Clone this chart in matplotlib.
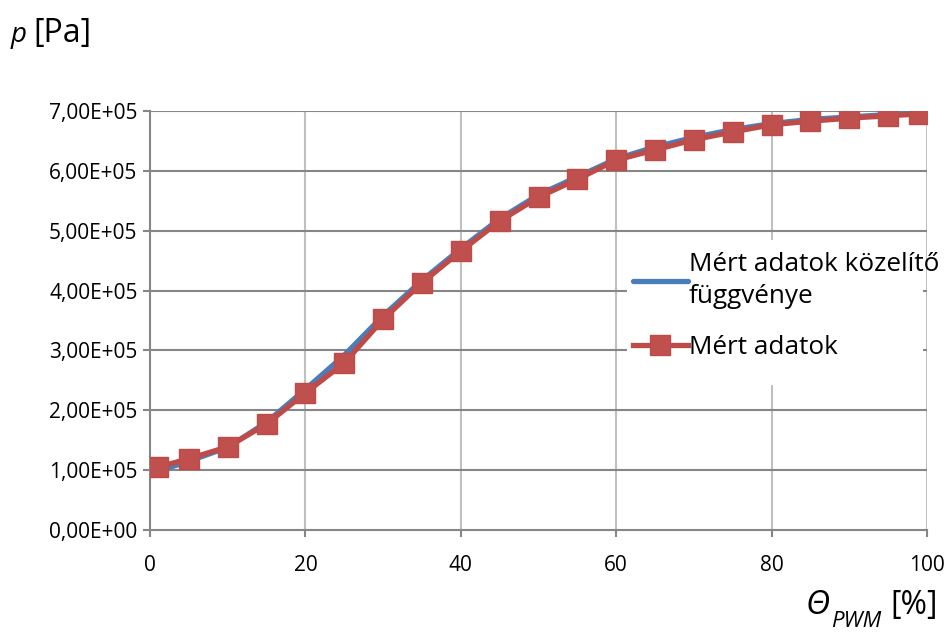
import numpy as np
import matplotlib.pyplot as plt
from matplotlib.patches import Rectangle
from matplotlib.ticker import FuncFormatter

# Measured data (Mért adatok)
x_meas = [1, 5, 10, 15, 20, 25, 30, 35, 40, 45, 50, 55, 60, 65, 70, 75, 80, 85, 90, 95, 99]
p_meas = [1.05e5, 1.19e5, 1.39e5, 1.77e5, 2.29e5, 2.79e5, 3.52e5, 4.13e5, 4.66e5, 5.16e5,
          5.56e5, 5.86e5, 6.18e5, 6.35e5, 6.52e5, 6.65e5, 6.77e5, 6.83e5, 6.88e5, 6.92e5, 6.95e5]

# Fitted curve (Mért adatok közelítő függvénye)
x_fit = [1, 5, 10, 15, 20, 25, 30, 35, 40, 45, 50, 55, 60, 65, 70, 75, 80, 85, 90, 95, 99]
p_fit = [0.98e5, 1.15e5, 1.38e5, 1.80e5, 2.35e5, 2.92e5, 3.58e5, 4.17e5, 4.70e5, 5.20e5,
         5.60e5, 5.90e5, 6.20e5, 6.40e5, 6.56e5, 6.69e5, 6.79e5, 6.86e5, 6.90e5, 6.94e5, 6.97e5]

x_ticks = [0, 20, 40, 60, 80, 100]
y_ticks = [0, 1e5, 2e5, 3e5, 4e5, 5e5, 6e5, 7e5]

plt.rcParams['font.family'] = ['Open Sans', 'DejaVu Sans']

fig = plt.figure(figsize=(9.51, 6.40), dpi=100, facecolor='w')
ax = fig.add_axes([150 / 951, 1 - 530 / 640, 777 / 951, 419 / 640])

dark = '#868686'
light = '#c0c0c0'

for xv in x_ticks[1:]:
    ax.axvline(xv, color=light, lw=1.5, zorder=0)
for yv in y_ticks[1:]:
    ax.axhline(yv, color=dark, lw=1.5, zorder=0)

# white legend background (Excel lets the text run past it)
ax.add_patch(Rectangle((0.614, 0.346), 0.381, 0.346, transform=ax.transAxes,
                       facecolor='white', edgecolor='none', zorder=1))

ax.plot(x_fit, p_fit, color='#4a7ebb', lw=3.8, solid_capstyle='round',
        label='Mért adatok közelítő\nfüggvénye', zorder=2)
ax.plot(x_meas, p_meas, color='#be4b48', lw=3.8, marker='s', markersize=14.5,
        markerfacecolor='#c0504d', markeredgecolor='#be4b48',
        label='Mért adatok', zorder=3)

ax.set_xlim(0, 100)
ax.set_ylim(0, 7e5)
ax.set_xticks(x_ticks)
ax.set_yticks(y_ticks)


def sci_comma(v, pos):
    s = '%.2E' % v
    mant, exp = s.split('E')
    return mant.replace('.', ',') + 'E+' + '%02d' % abs(int(exp))


ax.yaxis.set_major_formatter(FuncFormatter(sci_comma))
for side in ['top', 'right']:
    ax.spines[side].set_visible(False)
for side in ['left', 'bottom']:
    ax.spines[side].set_color(dark)
    ax.spines[side].set_linewidth(1.5)
ax.tick_params(axis='both', colors=dark, length=5, width=1.5, direction='out',
               labelcolor='black', labelsize=15)
ax.tick_params(axis='y', pad=4)
ax.tick_params(axis='x', pad=13)

leg = ax.legend(loc='upper left', bbox_to_anchor=(0.6216, 0.664), frameon=False,
                fontsize=18.8, handlelength=2.1, handletextpad=0.05,
                labelspacing=1.0, borderpad=0, borderaxespad=0)
for t in leg.get_texts():
    t.set_linespacing(1.4)

fig.text(11 / 951, 1 - 42 / 640, 'p', style='italic', fontsize=20, va='baseline')
fig.text(33 / 951, 1 - 42 / 640, '[Pa]', fontsize=23, va='baseline')

fig.text(806 / 951, 1 - 614 / 640, 'Θ', style='italic', fontsize=24, va='baseline')
fig.text(831 / 951, 1 - 611 / 640, 'PWM', style='italic', fontsize=16, va='top')
fig.text(890 / 951, 1 - 614 / 640, '[%]', fontsize=23, va='baseline')

fig.savefig('out.png', dpi=100)
